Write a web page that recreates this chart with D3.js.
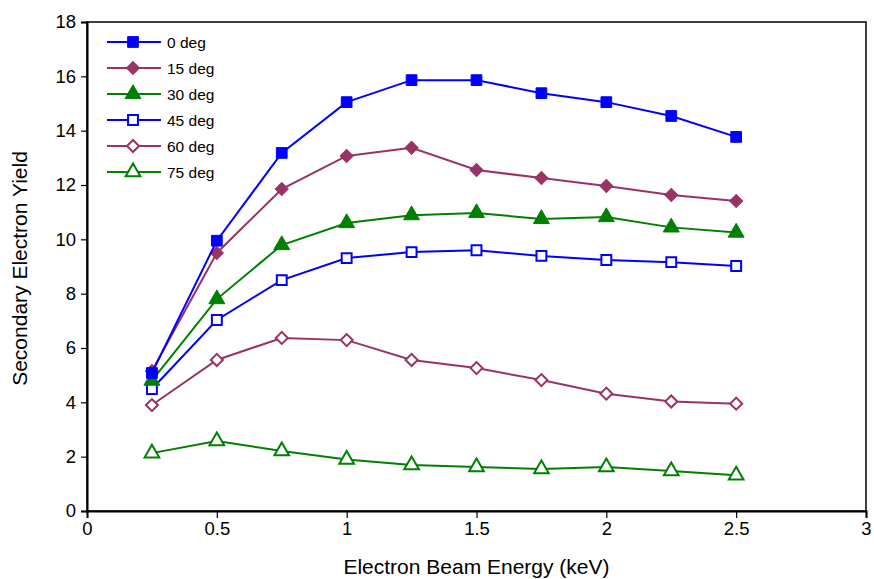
<!DOCTYPE html>
<html>
<head>
<meta charset="utf-8">
<script src="https://cdn.jsdelivr.net/npm/d3@7"></script>
<style>
  body { margin: 0; background: #fff; }
  text { font-family: "Liberation Sans", Arial, sans-serif; }
</style>
</head>
<body>
<div id="plotContainer"></div>
<script>
// data
const energy = [0.25, 0.5, 0.75, 1, 1.25, 1.5, 1.75, 2, 2.25, 2.5];
const deg0  = [5.08, 9.95, 13.18, 15.05, 15.86, 15.86, 15.38, 15.05, 14.54, 13.77];
const deg15 = [5.15, 9.5, 11.85, 13.07, 13.37, 12.55, 12.26, 11.96, 11.63, 11.41];
const deg30 = [4.8, 7.8, 9.79, 10.6, 10.89, 10.97, 10.75, 10.82, 10.44, 10.25];
const deg45 = [4.49, 7.03, 8.5, 9.31, 9.53, 9.6, 9.39, 9.24, 9.16, 9.02];
const deg60 = [3.9, 5.56, 6.37, 6.29, 5.56, 5.26, 4.82, 4.32, 4.03, 3.95];
const deg75 = [2.13, 2.58, 2.21, 1.9, 1.69, 1.62, 1.55, 1.62, 1.47, 1.32];
const seriesNames = ["0 deg", "15 deg", "30 deg", "45 deg", "60 deg", "75 deg"];
const xTicks = [0, 0.5, 1, 1.5, 2, 2.5, 3];
const yTicks = [0, 2, 4, 6, 8, 10, 12, 14, 16, 18];

const series = [
  {name: seriesNames[0], values: deg0,  color: "#0000ff", shape: "square",   filled: true},
  {name: seriesNames[1], values: deg15, color: "#993366", shape: "diamond",  filled: true},
  {name: seriesNames[2], values: deg30, color: "#008000", shape: "triangle", filled: true},
  {name: seriesNames[3], values: deg45, color: "#0000ff", shape: "square",   filled: false},
  {name: seriesNames[4], values: deg60, color: "#993366", shape: "diamond",  filled: false},
  {name: seriesNames[5], values: deg75, color: "#008000", shape: "triangle", filled: false}
];

const margin = {top: 22, right: 8, bottom: 68, left: 87},
    width = 874 - margin.left - margin.right,
    height = 579 - margin.top - margin.bottom;

const svg = d3.select("#plotContainer")
  .append("svg")
    .attr("width", 874)
    .attr("height", 579)
  .append("g")
    .attr("transform", `translate(${margin.left},${margin.top})`);

const x = d3.scaleLinear().domain([0, 3]).range([0, width]);
const y = d3.scaleLinear().domain([0, 18]).range([height, 0]);

// plot frame
svg.append("rect")
  .attr("width", width).attr("height", height)
  .attr("fill", "none").attr("stroke", "#000").attr("stroke-width", 1.5);

// axes
const xAxis = svg.append("g")
  .attr("transform", `translate(0, ${height})`)
  .call(d3.axisBottom(x).tickValues(xTicks).tickFormat(d3.format("")).tickSize(7).tickPadding(4));
const yAxis = svg.append("g")
  .call(d3.axisLeft(y).tickValues(yTicks).tickSize(6).tickPadding(5));
[xAxis, yAxis].forEach(a => {
  a.select(".domain").attr("stroke-width", 2);
  a.selectAll(".tick line").attr("stroke-width", 1.2);
  a.selectAll("text").style("font-size", "18.5px").attr("fill", "#000");
});

// axis titles
svg.append("text")
  .attr("x", x(1.5)).attr("y", height + 63)
  .attr("text-anchor", "middle").style("font-size", "21px")
  .text("Electron Beam Energy (keV)");
svg.append("text")
  .attr("transform", `translate(${-60}, ${height / 2 + 2}) rotate(-90)`)
  .attr("text-anchor", "middle").style("font-size", "21px")
  .text("Secondary Electron Yield");

const symbolType = {square: d3.symbolSquare, diamond: d3.symbolSquare, triangle: d3.symbolTriangle};
const symbolSize = {square: 115, diamond: 85, triangle: 110};

function drawMarker(g, s, px, py) {
  const sz = s.filled ? symbolSize[s.shape] : symbolSize[s.shape] * 0.85;
  const rot = s.shape === "diamond" ? " rotate(45)" : "";
  g.append("path")
    .attr("transform", `translate(${px},${py})${rot}`)
    .attr("d", d3.symbol().type(symbolType[s.shape]).size(sz)())
    .attr("fill", s.filled ? s.color : "#fff")
    .attr("stroke", s.color)
    .attr("stroke-width", s.filled ? 1 : 2);
}

const line = d3.line()
  .x((d, i) => x(energy[i]))
  .y(d => y(d));

// draw in reverse so the first series sits on top
series.slice().reverse().forEach(s => {
  const g = svg.append("g");
  g.append("path")
    .datum(s.values)
    .attr("d", line)
    .attr("fill", "none")
    .attr("stroke", s.color)
    .attr("stroke-width", 2);
  s.values.forEach((v, i) => drawMarker(g, s, x(energy[i]), y(v)));
});

// legend
const legend = svg.append("g").attr("transform", "translate(20, 20)");
series.forEach((s, i) => {
  const row = legend.append("g").attr("transform", `translate(0, ${i * 26})`);
  row.append("line")
    .attr("x1", 0).attr("x2", 54)
    .attr("stroke", s.color).attr("stroke-width", 2);
  drawMarker(row, s, 26, 0);
  row.append("text")
    .attr("x", 60).attr("y", 6)
    .style("font-size", "15.5px")
    .text(s.name);
});
</script>
</body>
</html>
